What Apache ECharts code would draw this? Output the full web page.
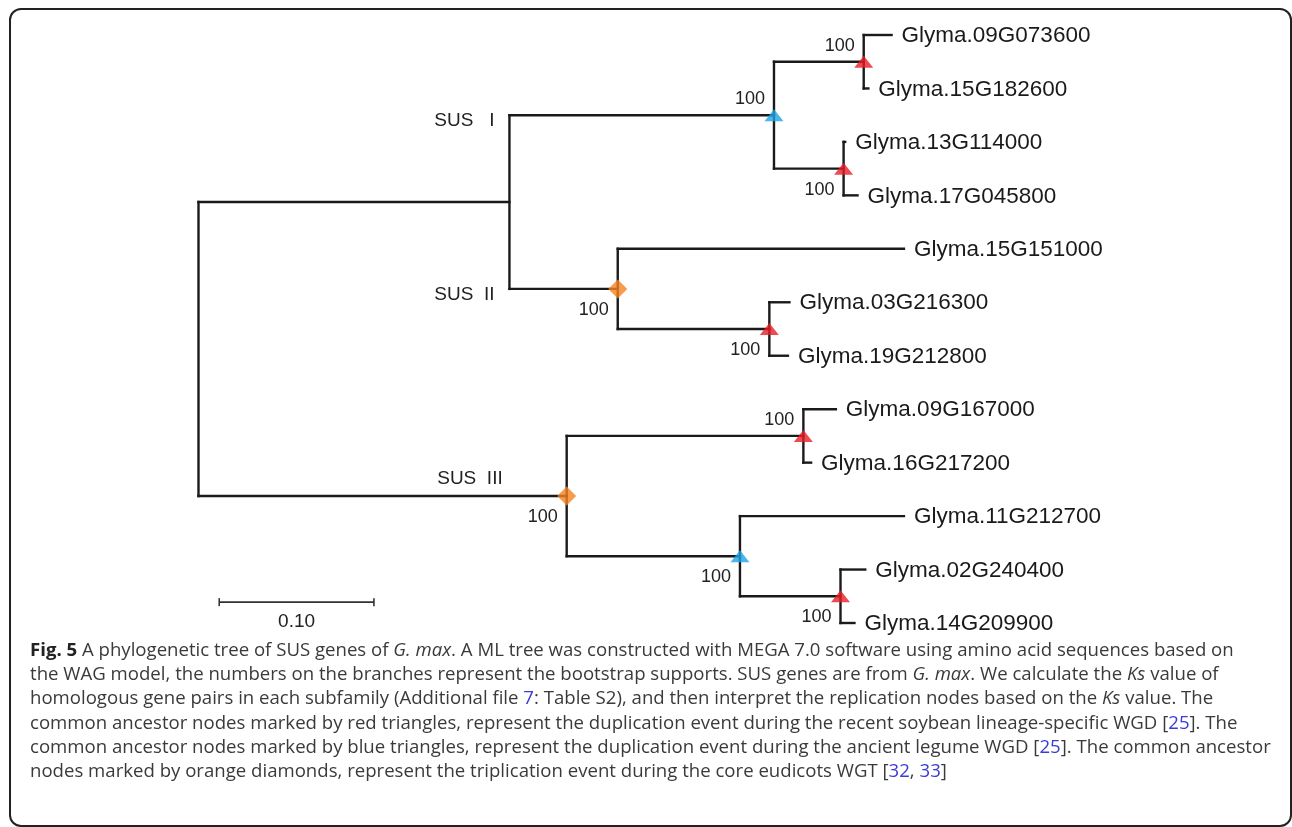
<!DOCTYPE html>
<html lang="en">
<head>
<meta charset="UTF-8">
<title>Fig. 5 SUS phylogenetic tree</title>
<script src="https://cdn.jsdelivr.net/npm/echarts@6/dist/echarts.min.js"></script>
<style>
    html,body{margin:0;padding:0;background:#fff;overflow:hidden;}
    #frame{position:absolute;left:9px;top:8px;width:1283px;height:819px;border:2px solid #222;border-radius:12px;box-sizing:border-box;}
    #tree{position:absolute;left:0;top:0;width:1292px;height:827px;}
    .caption{position:absolute;left:30px;top:637px;font-family:"Open Sans","Noto Sans",sans-serif;font-size:18.6px;line-height:24.2px;color:#3a3a3a;}
    .caption div{white-space:nowrap;}
    .caption b{color:#222;}
    .caption a{color:#3b3bd6;text-decoration:none;}
</style>
</head>
<body>
<div id="frame"></div>
<div id="tree"></div>
<div class="caption">
    <div><b>Fig. 5</b> A phylogenetic tree of SUS genes of <i>G. max</i>. A ML tree was constructed with MEGA 7.0 software using amino acid sequences based on</div>
    <div>the WAG model, the numbers on the branches represent the bootstrap supports. SUS genes are from <i>G. max</i>. We calculate the <i>Ks</i> value of</div>
    <div>homologous gene pairs in each subfamily (Additional file <a>7</a>: Table S2), and then interpret the replication nodes based on the <i>Ks</i> value. The</div>
    <div>common ancestor nodes marked by red triangles, represent the duplication event during the recent soybean lineage-specific WGD [<a>25</a>]. The</div>
    <div>common ancestor nodes marked by blue triangles, represent the duplication event during the ancient legume WGD [<a>25</a>]. The common ancestor</div>
    <div>nodes marked by orange diamonds, represent the triplication event during the core eudicots WGT [<a>32</a>, <a>33</a>]</div>
</div>
<script>
// tree, nodes in depth-first order (leaves top to bottom)
var nodeNames = ['root', 'SUS I/II', 'SUS I', 'n3', 'Glyma.09G073600', 'Glyma.15G182600',
    'n6', 'Glyma.13G114000', 'Glyma.17G045800', 'SUS II', 'Glyma.15G151000', 'n11',
    'Glyma.03G216300', 'Glyma.19G212800', 'SUS III', 'n15', 'Glyma.09G167000', 'Glyma.16G217200',
    'n18', 'Glyma.11G212700', 'n20', 'Glyma.02G240400', 'Glyma.14G209900'];
var nodeParents = [-1, 0, 1, 2, 3, 3, 2, 6, 6, 1, 9, 9, 11, 11, 0, 14, 15, 15, 14, 18, 18, 20, 20];
var branchLengths = [0, 0.201, 0.171, 0.058, 0.018, 0.003, 0.045, 0.001, 0.009, 0.070, 0.185, 0.098,
    0.013, 0.012, 0.238, 0.153, 0.021, 0.005, 0.112, 0.106, 0.065, 0.016, 0.009];
var bootstrap = [null, null, 100, 100, null, null, 100, null, null, 100, null, 100,
    null, null, 100, 100, null, null, 100, null, 100, null, null];
var bootstrapSide = ['', '', 'up', 'up', '', '', 'down', '', '', 'down', '', 'down',
    '', '', 'down', 'up', '', '', 'down', '', 'down', '', ''];
// red = soybean WGD, blue = legume WGD, orange = eudicot WGT
var dupEvents = ['', '', 'legume', 'soybean', '', '', 'soybean', '', '', 'eudicot', '', 'soybean',
    '', '', 'eudicot', 'soybean', '', '', 'legume', '', 'soybean', '', ''];
var cladeNames = ['SUS   I', 'SUS  II', 'SUS  III'];
var cladeNodes = [2, 9, 14];
var scaleBarLength = 0.10;
var scaleBarLabel = '0.10';

var eventSymbol = {soybean: 'triangle', legume: 'triangle', eudicot: 'diamond'};
var eventColor = {soybean: '#ea1d25', legume: '#1fa3e3', eudicot: '#f6821f'};
var eventSize = {soybean: [19, 12], legume: [19, 12], eudicot: [19, 19]};

var children = nodeNames.map(function(){ return []; });
nodeParents.forEach(function(p, i){ if (p >= 0) children[p].push(i); });
var depth = [];
nodeParents.forEach(function(p, i){ depth[i] = p < 0 ? 0 : depth[p] + branchLengths[i]; });
var row = [], leafCount = 0;
function place(i) {
    var k = children[i];
    if (!k.length) { row[i] = leafCount++; return; }
    k.forEach(place);
    row[i] = (row[k[0]] + row[k[k.length - 1]]) / 2;
}
place(0);

var ink = '#1a1a1a';
var font = '"Liberation Sans", Arial, sans-serif';
var branch = {stroke: ink, lineWidth: 2.4, lineCap: 'square'};

var myChart = echarts.init(document.getElementById('tree'));
var option = {
    animation: false,
    grid: {left: 198.5, right: 320, top: 35, bottom: 204},
    xAxis: {type: 'value', min: 0, max: 0.5, show: false},
    yAxis: {type: 'value', min: 0, max: leafCount - 1, inverse: true, show: false},
    series: [{
        type: 'custom',
        clip: false,
        data: nodeNames.map(function(n, i){ return [depth[i], row[i], i]; }),
        renderItem: function(params, api) {
            var i = api.value(2), p = nodeParents[i], k = children[i];
            var pt = api.coord([depth[i], row[i]]);
            var els = [];
            var start = pt;
            if (p >= 0) {
                start = api.coord([depth[p], row[i]]);
                els.push({type: 'line', shape: {x1: start[0], y1: start[1], x2: pt[0], y2: pt[1]}, style: branch});
            }
            if (k.length) {
                var a = api.coord([depth[i], row[k[0]]]);
                var b = api.coord([depth[i], row[k[k.length - 1]]]);
                els.push({type: 'line', shape: {x1: a[0], y1: a[1], x2: b[0], y2: b[1]}, style: branch});
            } else {
                els.push({type: 'text', x: pt[0] + 10, y: pt[1] + 1, style: {
                    text: nodeNames[i], fill: ink, fontSize: 22.5, fontFamily: font, align: 'left', verticalAlign: 'middle'}});
            }
            if (bootstrap[i] != null) {
                els.push({type: 'text', x: pt[0] - 9, y: pt[1] + (bootstrapSide[i] === 'up' ? -16 : 21), style: {
                    text: String(bootstrap[i]), fill: '#222', fontSize: 18, fontFamily: font, align: 'right', verticalAlign: 'middle'}});
            }
            var c = cladeNodes.indexOf(i);
            if (c >= 0) {
                var tx = c < 2 ? start[0] - 15 : pt[0] - 64;
                var ty = c < 2 ? pt[1] + 6 : pt[1] - 17;
                els.push({type: 'text', x: tx, y: ty, style: {
                    text: cladeNames[c], fill: '#222', fontSize: 19, fontFamily: font, align: 'right', verticalAlign: 'middle'}});
            }
            return {type: 'group', children: els};
        },
        z: 2
    }, {
        type: 'scatter',
        data: nodeNames.map(function(n, i){ return i; }).filter(function(i){ return dupEvents[i]; }).map(function(i){
            var e = dupEvents[i];
            return {value: [depth[i], row[i]], symbol: eventSymbol[e], symbolSize: eventSize[e], itemStyle: {color: eventColor[e]}};
        }),
        z: 3
    }, {
        // scale bar
        type: 'custom',
        clip: false,
        data: [[0.0134, 10.61]],
        renderItem: function(params, api) {
            var a = api.coord([api.value(0), api.value(1)]);
            var b = api.coord([api.value(0) + scaleBarLength, api.value(1)]);
            var st = {stroke: '#333', lineWidth: 1.6};
            return {type: 'group', children: [
                {type: 'line', shape: {x1: a[0], y1: a[1], x2: b[0], y2: b[1]}, style: st},
                {type: 'line', shape: {x1: a[0], y1: a[1] - 4, x2: a[0], y2: a[1] + 4}, style: st},
                {type: 'line', shape: {x1: b[0], y1: b[1] - 4, x2: b[0], y2: b[1] + 4}, style: st},
                {type: 'text', x: (a[0] + b[0]) / 2, y: a[1] + 20, style: {
                    text: scaleBarLabel, fill: '#222', fontSize: 19, fontFamily: font, align: 'center', verticalAlign: 'middle'}}
            ]};
        }
    }]
};
myChart.setOption(option);
</script>
</body>
</html>
